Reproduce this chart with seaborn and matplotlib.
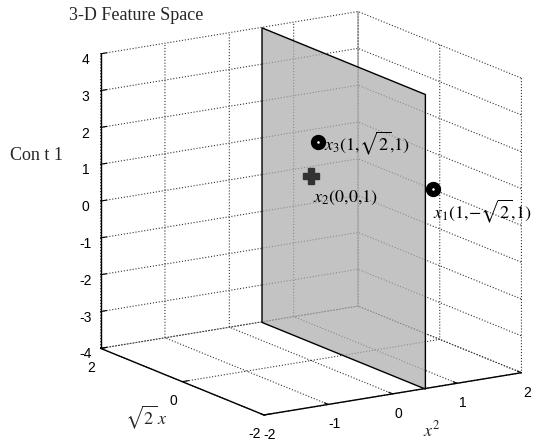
import numpy as np
import matplotlib
matplotlib.use("Agg")
import matplotlib.pyplot as plt
import seaborn as sns
from mpl_toolkits.mplot3d.art3d import Poly3DCollection

sns.set_style("white")
plt.rcParams["font.family"] = ["Liberation Sans", "DejaVu Sans"]
plt.rcParams["mathtext.fontset"] = "stix"
plt.rcParams["axes.unicode_minus"] = False

# Feature-space coordinates (x^2, sqrt(2) x, 1) of the three samples
feat_x2 = [1, 0, 1]
feat_sqrt2x = [-np.sqrt(2), 0, np.sqrt(2)]
feat_const = [1, 1, 1]
point_labels = [r"$x_1(1{,}{-}\sqrt{2}{,}1)$", r"$x_2(0{,}0{,}1)$",
                r"$x_3(1{,}\sqrt{2}{,}1)$"]
point_markers = ["o", "P", "o"]

# Separating plane x^2 = 0.5
plane_x2 = 0.5

x_ticks = [-2, -1, 0, 1, 2]
y_ticks = [-2, 0, 2]
z_ticks = [-4, -3, -2, -1, 0, 1, 2, 3, 4]

fig = plt.figure(figsize=(5.38, 4.42), dpi=100)
ax = fig.add_axes([0.067, 0.004, 1.0, 1.0], projection="3d", proj_type="ortho")
ax.view_init(elev=15, azim=-122.4)
ax.set_box_aspect((1, 1, 1), zoom=1.16)

ax.set_xlim(-2, 2)
ax.set_ylim(-2, 2)
ax.set_zlim(-4, 4)
ax.set_xticks(x_ticks)
ax.set_yticks(y_ticks)
ax.set_zticks(z_ticks)

for axis in (ax.xaxis, ax.yaxis, ax.zaxis):
    axis.set_pane_color((1, 1, 1, 0))
    axis.pane.set_edgecolor((1, 1, 1, 0))
    axis.line.set_color("black")
    axis.line.set_linewidth(1.0)
    axis._axinfo["grid"].update({"color": "0.2", "linestyle": ":", "linewidth": 0.8})
    axis._axinfo["tick"]["inward_factor"] = 0.0
    axis._axinfo["tick"]["outward_factor"] = 0.3
    axis._axinfo["tick"]["linewidth"] = {True: 0.8, False: 0.5}
    axis.set_tick_params(labelsize=10, colors="black", pad=-2)

# Gray separating plane spanning the whole box
yy = [-2, 2, 2, -2]
zz = [-4, -4, 4, 4]
verts = [list(zip([plane_x2] * 4, yy, zz))]
plane = Poly3DCollection(verts, facecolor=(0.68, 0.68, 0.68, 0.72),
                         edgecolor="black", linewidth=1.0)
ax.add_collection3d(plane)

# Samples
for i in range(3):
    if point_markers[i] == "o":
        ax.plot([feat_x2[i]], [feat_sqrt2x[i]], [feat_const[i]], marker="o",
                markersize=6.5, markerfacecolor="white", markeredgecolor="black",
                markeredgewidth=4.5, linestyle="none", zorder=5)
    else:
        ax.plot([feat_x2[i]], [feat_sqrt2x[i]], [feat_const[i]], marker="P",
                markersize=11, markerfacecolor="0.2", markeredgecolor="0.2",
                linestyle="none", zorder=5)

text_kw = dict(fontsize=13, color="black")
ax.text(feat_x2[0], feat_sqrt2x[0], feat_const[0] - 0.6, point_labels[0],
        ha="left", va="center", **text_kw)
ax.text(feat_x2[1], feat_sqrt2x[1] - 0.05, feat_const[1] - 0.55, point_labels[1],
        ha="left", va="center", **text_kw)
ax.text(feat_x2[2], feat_sqrt2x[2] - 0.15, feat_const[2] + 0.05, point_labels[2],
        ha="left", va="center", **text_kw)

# Axis titles
fig.text(432 / 538, 1 - 430 / 442, r"$x^2$", fontsize=13, ha="center", va="center")
fig.text(146 / 538, 1 - 417 / 442, r"$\sqrt{2}\,x$", fontsize=13, ha="center", va="center")
fig.text(36 / 538, 1 - 155 / 442, "Con t 1", fontsize=13, family="Liberation Serif",
         ha="center", va="center")
fig.text(136 / 538, 1 - 16 / 442, "3-D Feature Space", fontsize=13,
         family="Liberation Serif", ha="center", va="center")

fig.savefig("out.png", dpi=100)
